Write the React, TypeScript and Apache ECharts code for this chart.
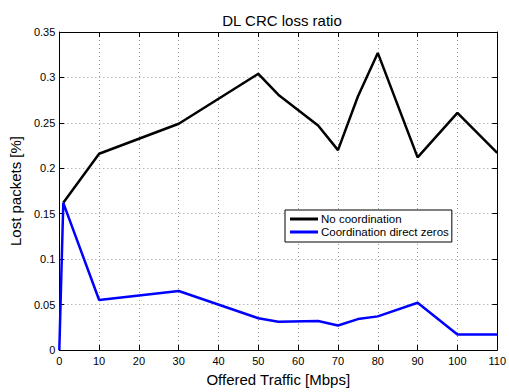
import React, { useEffect, useRef } from "react";
import * as echarts from "echarts";

// Offered traffic (Mbps) and lost-packet ratios for each scheme
const trafficNoCoord = [1, 10, 30, 50, 55, 65, 70, 75, 80, 90, 100, 110];
const lossNoCoord = [0.162, 0.216, 0.249, 0.304, 0.281, 0.247, 0.22, 0.279, 0.327, 0.212, 0.261, 0.217];

const trafficCoord = [0, 1, 10, 30, 50, 55, 65, 70, 75, 80, 90, 100, 110];
const lossCoord = [0, 0.162, 0.055, 0.065, 0.035, 0.031, 0.032, 0.027, 0.034, 0.037, 0.052, 0.017, 0.017];

const FONT = "Liberation Sans, Arial, Helvetica, sans-serif";

const pairs = (xs: number[], ys: number[]) => xs.map((x, i) => [x, ys[i]]);

export default function App() {
  const ref = useRef<HTMLDivElement>(null);

  useEffect(() => {
    document.body.style.margin = "0";
    const chart = echarts.init(ref.current!, undefined, { renderer: "svg" });
    const tickIn = { show: true, inside: true, length: 5, lineStyle: { color: "#000", width: 1 } };
    const axisLine = { show: true, onZero: false, lineStyle: { color: "#000", width: 1 } };
    const grid = { show: true, lineStyle: { color: "#999", type: [1, 3] as any, width: 1 } };
    chart.setOption({
      animation: false,
      backgroundColor: "#fff",
      title: {
        text: "DL CRC loss ratio",
        left: 277,
        top: 8,
        textAlign: "center",
        textStyle: { fontFamily: FONT, fontSize: 15, fontWeight: "normal", color: "#000" },
      },
      grid: { left: 53, top: 32, width: 448, height: 327 },
      legend: {
        orient: "vertical",
        left: 285,
        top: 210,
        padding: [3, 3, 4, 5],
        itemGap: 1,
        itemWidth: 28,
        itemHeight: 3,
        icon: "rect",
        borderColor: "#000",
        borderWidth: 1,
        backgroundColor: "#fff",
        textStyle: { fontFamily: FONT, fontSize: 11.5, color: "#000", padding: [0, 0, 0, -2] },
        data: ["No coordination", "Coordination direct zeros"],
      },
      xAxis: [
        {
          type: "value",
          min: 0,
          max: 110,
          interval: 10,
          name: "Offered Traffic [Mbps]",
          nameLocation: "middle",
          nameGap: 22,
          nameTextStyle: { fontFamily: FONT, fontSize: 15, color: "#000" },
          axisLine,
          axisTick: tickIn,
          axisLabel: { fontFamily: FONT, fontSize: 11, color: "#000", margin: 5 },
          splitLine: grid,
        },
        {
          type: "value",
          position: "top",
          min: 0,
          max: 110,
          interval: 10,
          axisLine,
          axisTick: tickIn,
          axisLabel: { show: false },
          splitLine: { show: false },
        },
      ],
      yAxis: [
        {
          type: "value",
          min: 0,
          max: 0.35,
          interval: 0.05,
          name: "Lost packets [%]",
          nameLocation: "middle",
          nameGap: 30,
          nameTextStyle: { fontFamily: FONT, fontSize: 15, color: "#000" },
          axisLine,
          axisTick: tickIn,
          axisLabel: {
            fontFamily: FONT,
            fontSize: 11,
            color: "#000",
            margin: 4,
            formatter: (v: number) => String(+v.toFixed(2)),
          },
          splitLine: grid,
        },
        {
          type: "value",
          position: "right",
          min: 0,
          max: 0.35,
          interval: 0.05,
          axisLine,
          axisTick: tickIn,
          axisLabel: { show: false },
          splitLine: { show: false },
        },
      ],
      series: [
        {
          name: "No coordination",
          type: "line",
          data: pairs(trafficNoCoord, lossNoCoord),
          showSymbol: false,
          symbol: "none",
          itemStyle: { color: "#000" },
          lineStyle: { color: "#000", width: 2.5 },
        },
        {
          name: "Coordination direct zeros",
          type: "line",
          data: pairs(trafficCoord, lossCoord),
          showSymbol: false,
          symbol: "none",
          itemStyle: { color: "#0000ff" },
          lineStyle: { color: "#0000ff", width: 2.5 },
        },
      ],
    });
    return () => chart.dispose();
  }, []);

  return <div ref={ref} style={{ width: 509, height: 392 }} />;
}
